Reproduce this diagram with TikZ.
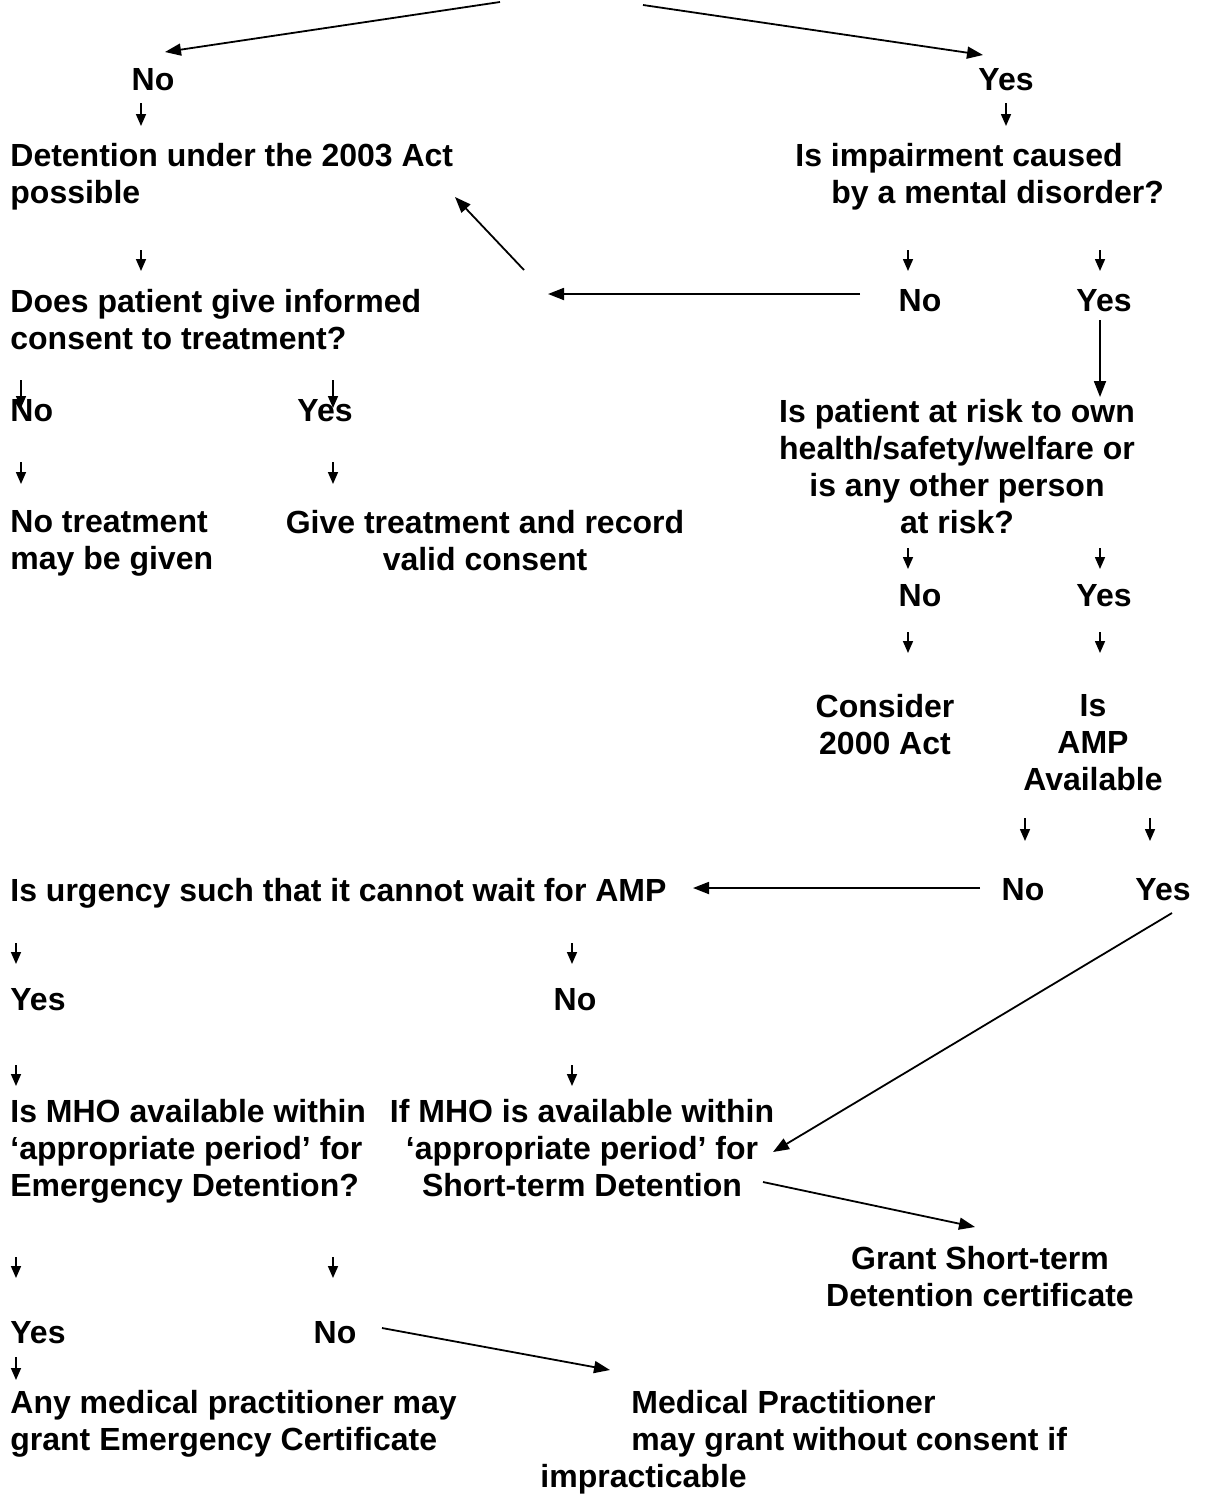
\documentclass[tikz,border=0pt]{standalone}
\usepackage{fontspec}
\setmainfont{Liberation Sans}
\usetikzlibrary{arrows.meta}
\tikzset{
  txt/.style={inner sep=0pt, font=\fontsize{16}{18.5}\selectfont\bfseries},
  lft/.style={txt, anchor=north west, align=left},
  mid/.style={txt, anchor=north, align=center},
  arr/.style={-{Triangle[length=8pt,width=6pt]}, line width=0.9pt},
  tick/.style={-{Triangle[length=6pt,width=5pt]}, line width=0.8pt},
}

\begin{document}
\begin{tikzpicture}[x=0.5pt,y=-0.5pt]
\useasboundingbox (0,0) rectangle (1224,1494);

% first answers
\node[mid] (no1) at (153,68) {No};
\node[mid] (yes1) at (1006,68) {Yes};

% left branch
\node[lft] (det) at (10,143) {Detention under the 2003 Act\\possible};
\node[lft] (cons) at (10,289) {Does patient give informed\\consent to treatment?};
\node[lft] (no3) at (10,399) {No};
\node[mid] (yes3) at (325,399) {Yes};
\node[lft] (notreat) at (10,510) {No treatment\\may be given};
\node[mid] (give) at (485,510) {Give treatment and record\\valid consent};

% right branch
\node[lft] (impair) at (795,143) {Is impairment caused\\\hspace*{18pt}by a mental disorder?};
\node[mid] (no2) at (920,289) {No};
\node[mid] (yes2) at (1104,289) {Yes};
\node[mid] (risk) at (957,399) {Is patient at risk to own\\health/safety/welfare or\\is any other person\\at risk?};
\node[mid] (no4) at (920,584) {No};
\node[mid] (yes4) at (1104,584) {Yes};
\node[mid] (consider) at (885,694) {Consider\\2000 Act};
\node[mid] (amp) at (1093,694) {Is\\AMP\\Available};
\node[mid] (no5) at (1023,878) {No};
\node[mid] (yes5) at (1163,878) {Yes};

% urgency
\node[lft] (urgent) at (10,878) {Is urgency such that it cannot wait for AMP};
\node[lft] (yes6) at (10,988) {Yes};
\node[mid] (no6) at (575,988) {No};
\node[lft] (mhoemerg) at (10,1099) {Is MHO available within\\‘appropriate period’ for\\Emergency Detention?};
\node[mid] (mhoshort) at (582,1099) {If MHO is available within\\‘appropriate period’ for\\Short-term Detention};
\node[mid] (grant) at (980,1246) {Grant Short-term\\Detention certificate};
\node[lft] (yes7) at (10,1321) {Yes};
\node[mid] (no7) at (335,1321) {No};
\node[lft] (anymp) at (10,1390) {Any medical practitioner may\\grant Emergency Certificate};
\node[lft] (medprac) at (540,1390) {\hspace*{45.5pt}Medical Practitioner\\\hspace*{45.5pt}may grant without consent if\\impracticable};

% short down arrows
\foreach \x/\ya/\yb [count=\i] in {141/103/126, 1006/103/126, 141/250/271, 908/250/271,
    1100/250/271, 21/380/408, 333/380/408, 21/462/484, 333/462/484, 908/548/569,
    1100/548/569, 908/632/653, 1100/632/653, 1025/818/841, 1150/818/841,
    16/943/964, 572/943/964, 16/1065/1086, 572/1065/1086, 16/1257/1278,
    333/1257/1278, 16/1357/1380}{
  \coordinate (s\i) at (\x,\ya);
  \coordinate (e\i) at (\x,\yb);
  \draw[tick] (s\i) -- (e\i);
}

% long arrows
\coordinate (top1) at (500,2);
\coordinate (top2) at (643,5);
\coordinate (tipno) at (165,52);
\coordinate (tipyes) at (983,55);
\draw[arr] (top1) -- (tipno);
\draw[arr] (top2) -- (tipyes);

\coordinate (back1) at (524,270);
\coordinate (back2) at (455,197);
\draw[arr] (back1) -- (back2);
\coordinate (left1) at (860,294);
\coordinate (left2) at (548,294);
\draw[arr] (left1) -- (left2);
\coordinate (down1) at (1100,320);
\coordinate (down2) at (1100,397);
\draw[arr] (down1) -- (down2);

\coordinate (amp1) at (980,888);
\coordinate (amp2) at (693,888);
\draw[arr] (amp1) -- (amp2);
\coordinate (yesamp1) at (1172,913);
\coordinate (yesamp2) at (773,1152);
\draw[arr] (yesamp1) -- (yesamp2);
\coordinate (std1) at (763,1182);
\coordinate (std2) at (975,1227);
\draw[arr] (std1) -- (std2);
\coordinate (emg1) at (382,1328);
\coordinate (emg2) at (610,1370);
\draw[arr] (emg1) -- (emg2);
\end{tikzpicture}
\end{document}
